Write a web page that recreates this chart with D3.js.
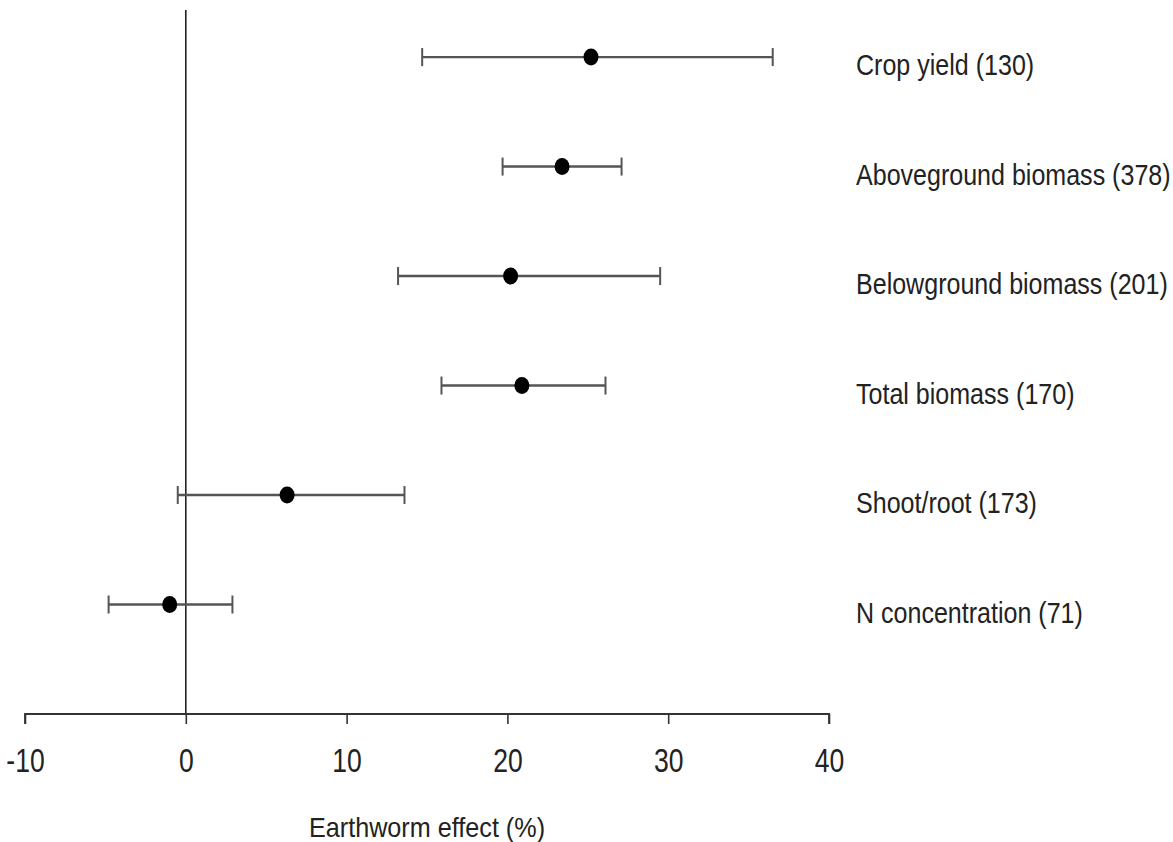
<!DOCTYPE html>
<html><head><meta charset="utf-8">
<script src="https://cdn.jsdelivr.net/npm/d3@7"></script>
<style>body{margin:0;background:#fff}svg{display:block}text{font-family:"Liberation Sans",Arial,sans-serif;fill:#222}</style>
</head><body>
<script>
const categories = ["Crop yield (130)","Aboveground biomass (378)","Belowground biomass (201)","Total biomass (170)","Shoot/root (173)","N concentration (71)"];
const means = [25.2, 23.4, 20.2, 20.9, 6.3, -1.0];
const lower = [14.7, 19.7, 13.2, 15.9, -0.5, -4.8];
const upper = [36.5, 27.1, 29.5, 26.1, 13.6, 2.9];
const xTicks = [-10, 0, 10, 20, 30, 40];
const rowPos = [6, 5, 4, 3, 2, 1];

const W = 1173, H = 842;
const svg = d3.select("body").append("svg").attr("width", W).attr("height", H);
const x = d3.scaleLinear().domain([-10, 40]).range([25, 829]);
const y = d3.scaleLinear().domain([0, 6.43]).range([714, 10]);

// zero line
svg.append("line").attr("x1", x(0)).attr("x2", x(0)).attr("y1", y(6.43)).attr("y2", y(0))
  .attr("stroke", "#222").attr("stroke-width", 1.6);

// x axis
const ax = svg.append("g").attr("transform", `translate(0,${y(0)})`)
  .call(d3.axisBottom(x).tickValues(xTicks).tickSize(10).tickPadding(24).tickFormat(d => String(d)));
ax.select(".domain").attr("stroke", "#333").attr("stroke-width", 1.8).attr("d", `M${x(-10)},10V0H${x(40)}V10`);
ax.selectAll(".tick line").attr("stroke", "#333").attr("stroke-width", 1.6);
ax.selectAll(".tick text").attr("font-size", 34).attr("fill", "#2a2a2a")
  .attr("font-family", '"Liberation Sans",Arial,sans-serif')
  .attr("transform", "scale(0.78,1)");

svg.append("text").attr("text-anchor", "middle")
  .attr("transform", `translate(${x(15)},837) scale(0.9,1)`)
  .attr("font-size", 28).attr("fill", "#2a2a2a").text("Earthworm effect (%)");

const g = svg.append("g");
categories.forEach((c, i) => {
  const yy = y(rowPos[i]);
  g.append("line").attr("x1", x(lower[i])).attr("x2", x(upper[i])).attr("y1", yy).attr("y2", yy)
    .attr("stroke", "#555").attr("stroke-width", 2.4);
  [lower[i], upper[i]].forEach(v => g.append("line").attr("x1", x(v)).attr("x2", x(v))
    .attr("y1", yy - 9).attr("y2", yy + 9).attr("stroke", "#555").attr("stroke-width", 2));
  g.append("ellipse").attr("cx", x(means[i])).attr("cy", yy).attr("rx", 7.5).attr("ry", 8.5).attr("fill", "#000");
  g.append("text").attr("transform", `translate(856,${yy + 18}) scale(0.835,1)`)
    .attr("font-size", 30).attr("fill", "#2a2a2a").text(c);
});
</script>
</body></html>
